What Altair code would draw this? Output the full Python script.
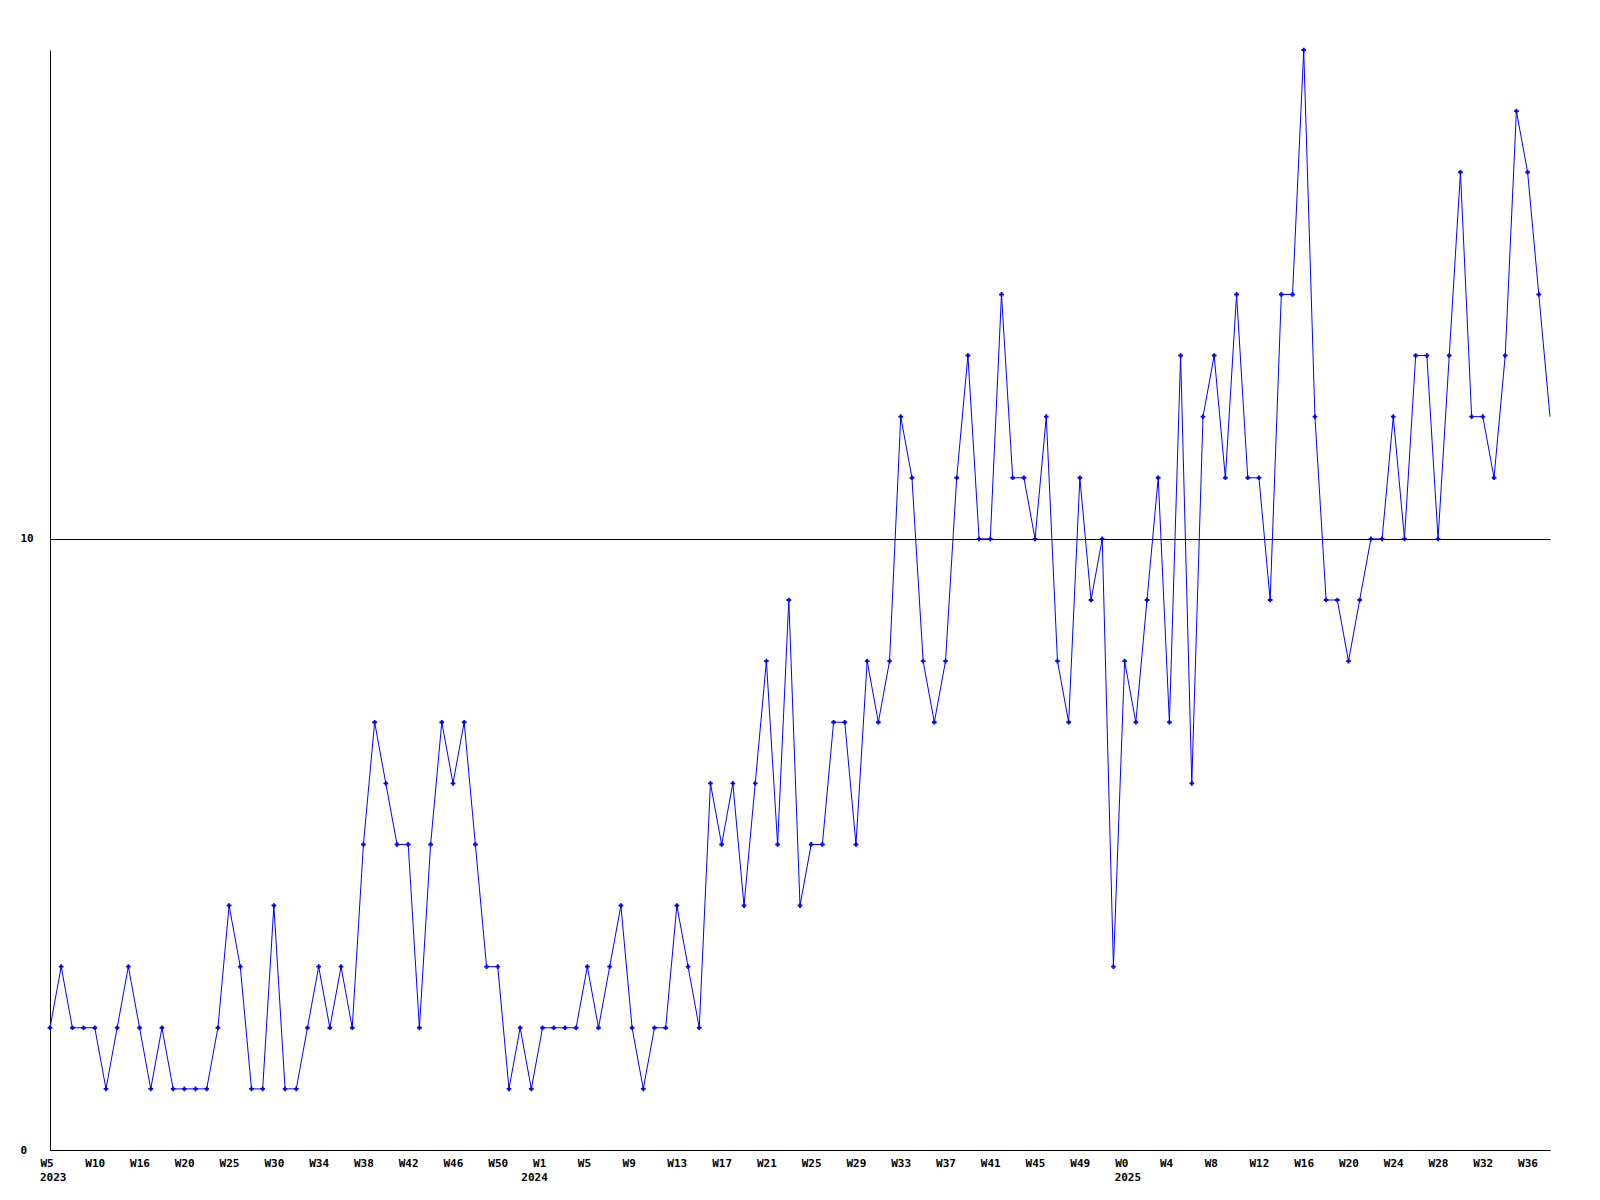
import json
import altair as alt
import pandas as pd

# weekly counts, W5 2023 .. W38 2025 (one point per plotted week)
values = [2, 3, 2, 2, 2, 1, 2, 3, 2, 1,
          2, 1, 1, 1, 1, 2, 4, 3, 1, 1,
          4, 1, 1, 2, 3, 2, 3, 2, 5, 7,
          6, 5, 5, 2, 5, 7, 6, 7, 5, 3,
          3, 1, 2, 1, 2, 2, 2, 2, 3, 2,
          3, 4, 2, 1, 2, 2, 4, 3, 2, 6,
          5, 6, 4, 6, 8, 5, 9, 4, 5, 5,
          7, 7, 5, 8, 7, 8, 12, 11, 8, 7,
          8, 11, 13, 10, 10, 14, 11, 11, 10, 12,
          8, 7, 11, 9, 10, 3, 8, 7, 9, 11,
          7, 13, 6, 12, 13, 11, 14, 11, 11, 9,
          14, 14, 18, 12, 9, 9, 8, 9, 10, 10,
          12, 10, 13, 13, 10, 13, 16, 12, 12, 11,
          13, 17, 16, 14, 12]

# tick labels, one every 4 points
tick_labels = ["W5", "W10", "W16", "W20", "W25", "W30", "W34", "W38", "W42",
               "W46", "W50", "W1", "W5", "W9", "W13", "W17", "W21", "W25",
               "W29", "W33", "W37", "W41", "W45", "W49", "W0", "W4", "W8",
               "W12", "W16", "W20", "W24", "W28", "W32", "W36"]
tick_step = 4

# year captions and the point index where each year starts
year_labels = ["2023", "2024", "2025"]
year_index = [0, 43, 96]

n = len(values)
df = pd.DataFrame({"idx": list(range(n)), "count": values})
df_year = pd.DataFrame({"idx": year_index, "year": year_labels})

FONT = "DejaVu Sans Mono"
BLUE = "#0000FF"

label_expr = json.dumps(tick_labels) + "[round(datum.value / %d)]" % tick_step

x_enc = alt.X(
    "idx:Q",
    scale=alt.Scale(domain=[0, n - 1], nice=False, zero=False),
    axis=alt.Axis(
        values=list(range(0, n, tick_step))[:len(tick_labels)],
        labelExpr=label_expr,
        title=None,
        ticks=False,
        tickSize=0,
        grid=False,
        domainColor="black",
        domainWidth=1,
        labelAlign="left",
        labelOffset=-10,
        labelPadding=7,
        labelBaseline="top",
        labelFont=FONT,
        labelFontWeight="bold",
        labelFontSize=11,
        labelColor="black",
        labelOverlap=False,
        labelFlush=False,
    ),
)

y_enc = alt.Y(
    "count:Q",
    scale=alt.Scale(domain=[0, 18], nice=False, zero=True),
    axis=alt.Axis(
        values=[0, 10],
        format="d",
        title=None,
        ticks=False,
        tickSize=0,
        grid=True,
        gridColor="black",
        gridOpacity=1,
        gridWidth=1,
        domainColor="black",
        domainWidth=1,
        labelAlign="left",
        labelPadding=30,
        labelBaseline="middle",
        labelFont=FONT,
        labelFontWeight="bold",
        labelFontSize=11,
        labelColor="black",
        labelFlush=False,
    ),
)

line = alt.Chart(df).mark_line(color=BLUE, strokeWidth=1).encode(x=x_enc, y=y_enc)

points = (
    alt.Chart(df)
    .transform_filter(alt.datum.idx < n - 1)
    .mark_point(shape="cross", filled=True, size=22, color=BLUE, opacity=1)
    .encode(x="idx:Q", y="count:Q")
)

years = (
    alt.Chart(df_year)
    .mark_text(align="left", baseline="top", dx=-10, font=FONT,
               fontWeight="bold", fontSize=11, color="black")
    .encode(x="idx:Q", y=alt.value(1122), text="year:N")
)

chart = (
    alt.layer(line, points, years)
    .properties(
        width=1500,
        height=1100,
        autosize=alt.AutoSizeParams(type="none"),
        padding={"left": 42, "top": 42, "right": 42, "bottom": 50},
        background="white",
    )
    .configure_view(stroke=None)
)

chart.save("out.html", embed_options={"renderer": "svg", "actions": False})
